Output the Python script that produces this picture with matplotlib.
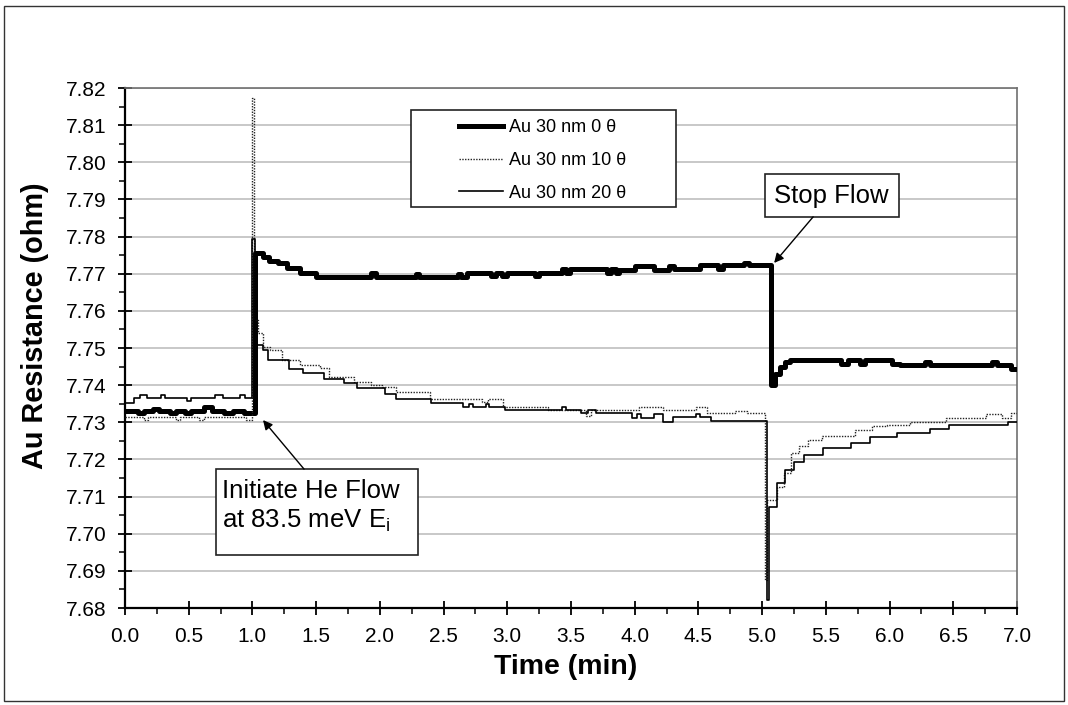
import matplotlib

matplotlib.use("Agg")
import matplotlib.pyplot as plt
from matplotlib.patches import Rectangle

plt.rcParams["font.family"] = ["Liberation Sans", "DejaVu Sans"]
plt.rcParams["mathtext.fontset"] = "custom"
plt.rcParams["mathtext.rm"] = "Liberation Sans"

W, H = 1068, 705

# Au 30 nm, 0 theta (thick line) - step breakpoints
time_0 = [0.00, 0.10, 0.15, 0.22, 0.27, 0.35, 0.40, 0.47, 0.52, 0.62, 0.68, 0.78,
          0.85, 0.93, 1.02, 1.08, 1.13, 1.20, 1.27, 1.37, 1.50, 1.93, 1.97, 2.28,
          2.31, 2.61, 2.64, 2.68, 2.87, 2.91, 2.96, 3.00, 3.22, 3.25, 3.43, 3.46,
          3.49, 3.78, 3.81, 3.85, 3.88, 4.00, 4.15, 4.27, 4.31, 4.51, 4.65, 4.69,
          4.86, 4.90, 5.07, 5.10, 5.14, 5.18, 5.22, 5.62, 5.67, 5.77, 5.81, 6.02,
          6.08, 6.28, 6.32, 6.80, 6.84, 6.95, 7.00]
res_0 = [7.7330, 7.7325, 7.7330, 7.7335, 7.7330, 7.7325, 7.7330, 7.7325, 7.7330,
         7.7340, 7.7330, 7.7325, 7.7330, 7.7325, 7.7755, 7.7745, 7.7735, 7.7728,
         7.7715, 7.7701, 7.7692, 7.7702, 7.7692, 7.7700, 7.7692, 7.7700, 7.7692,
         7.7703, 7.7693, 7.7703, 7.7693, 7.7701, 7.7693, 7.7701, 7.7713, 7.7703,
         7.7713, 7.7703, 7.7713, 7.7703, 7.7711, 7.7722, 7.7711, 7.7722, 7.7713,
         7.7723, 7.7713, 7.7723, 7.7730, 7.7723, 7.7400, 7.7430, 7.7450, 7.7462,
         7.7468, 7.7458, 7.7468, 7.7458, 7.7468, 7.7458, 7.7455, 7.7462, 7.7455,
         7.7462, 7.7455, 7.7443, 7.7443]

# Au 30 nm, 10 theta (dotted line)
time_10 = [0.00, 0.15, 0.18, 0.40, 0.43, 0.58, 0.62, 0.95, 1.00, 1.01, 1.04, 1.08,
           1.14, 1.23, 1.37, 1.53, 1.60, 1.80, 1.93, 2.02, 2.13, 2.39, 2.80, 2.85,
           2.97, 3.32, 3.62, 3.66, 4.03, 4.22, 4.48, 4.57, 4.79, 4.88, 5.02, 5.04,
           5.12, 5.17, 5.23, 5.29, 5.36, 5.47, 5.73, 5.86, 5.98, 6.16, 6.44, 6.76,
           6.88, 6.95, 7.00]
res_10 = [7.7315, 7.7307, 7.7315, 7.7307, 7.7315, 7.7307, 7.7315, 7.7307, 7.8172,
          7.7575, 7.7540, 7.7504, 7.7495, 7.7468, 7.7454, 7.7445, 7.7423, 7.7409,
          7.7400, 7.7394, 7.7382, 7.7363, 7.7355, 7.7363, 7.7342, 7.7333, 7.7318,
          7.7333, 7.7342, 7.7333, 7.7342, 7.7325, 7.7330, 7.7325, 7.6875, 7.7091,
          7.7127, 7.7163, 7.7217, 7.7235, 7.7253, 7.7263, 7.7279, 7.7290, 7.7293,
          7.7302, 7.7312, 7.7322, 7.7312, 7.7325, 7.7325]

# Au 30 nm, 20 theta (thin solid line)
time_20 = [0.00, 0.07, 0.12, 0.17, 0.28, 0.31, 0.49, 0.52, 0.71, 0.77, 0.90, 0.94,
           1.00, 1.02, 1.08, 1.12, 1.29, 1.40, 1.56, 1.72, 1.82, 2.04, 2.13, 2.40,
           2.65, 2.70, 2.73, 2.83, 2.86, 2.98, 3.43, 3.46, 3.58, 3.63, 3.70, 3.98,
           4.02, 4.05, 4.15, 4.22, 4.30, 4.48, 4.51, 4.60, 5.04, 5.05, 5.12, 5.18,
           5.25, 5.33, 5.48, 5.70, 5.85, 6.06, 6.32, 6.47, 6.93, 7.00]
res_20 = [7.7353, 7.7365, 7.7373, 7.7365, 7.7373, 7.7365, 7.7356, 7.7365, 7.7373,
          7.7365, 7.7373, 7.7365, 7.7793, 7.7508, 7.7495, 7.7468, 7.7443, 7.7433,
          7.7416, 7.7407, 7.7392, 7.7375, 7.7363, 7.7353, 7.7342, 7.7350, 7.7342,
          7.7350, 7.7342, 7.7333, 7.7340, 7.7333, 7.7325, 7.7333, 7.7325, 7.7311,
          7.7322, 7.7311, 7.7322, 7.7302, 7.7313, 7.7322, 7.7313, 7.7303, 7.6822,
          7.7073, 7.7136, 7.7171, 7.7194, 7.7212, 7.7232, 7.7243, 7.7261, 7.7272,
          7.7282, 7.7293, 7.7302, 7.7302]

labels = ["Au 30 nm 0 \u03b8", "Au 30 nm 10 \u03b8", "Au 30 nm 20 \u03b8"]
x_ticks = [0.0, 0.5, 1.0, 1.5, 2.0, 2.5, 3.0, 3.5, 4.0, 4.5, 5.0, 5.5, 6.0, 6.5, 7.0]
y_ticks = [7.68, 7.69, 7.70, 7.71, 7.72, 7.73, 7.74, 7.75, 7.76, 7.77, 7.78, 7.79,
           7.80, 7.81, 7.82]


def fig_xy(x, y):
    """Reference pixel position -> figure fraction."""
    return x / W, 1 - y / H


def box(ax, left, top, right, bottom):
    ax.add_patch(Rectangle(fig_xy(left, bottom), (right - left) / W, (bottom - top) / H,
                           transform=ax.figure.transFigure, clip_on=False,
                           facecolor="white", edgecolor="#222222", linewidth=1.2, zorder=6))


fig = plt.figure(figsize=(W / 100, H / 100), dpi=100)
fig.patches.append(Rectangle(fig_xy(4, 701), 1060 / W, 695 / H, transform=fig.transFigure,
                             fill=False, edgecolor="#333333", linewidth=1.0))

ax = fig.add_axes([125 / W, 1 - 608 / H, (1017 - 125) / W, (608 - 88) / H])
ax.plot(time_0, res_0, drawstyle="steps-post", color="black", linewidth=3.6,
        solid_joinstyle="round", label=labels[0], zorder=3)
ax.plot(time_10, res_10, drawstyle="steps-post", color="#222222", linewidth=1.0,
        linestyle=(0, (1, 1)), label=labels[1], zorder=4)
ax.plot(time_20, res_20, drawstyle="steps-post", color="black", linewidth=1.2,
        label=labels[2], zorder=5)

ax.set_xlim(0, 7)
ax.set_ylim(7.68, 7.82)
ax.set_xticks(x_ticks, [f"{v:.1f}" for v in x_ticks])
ax.set_yticks(y_ticks, [f"{v:.2f}" for v in y_ticks])
ax.set_xticks([v + 0.25 for v in x_ticks[:-1]], minor=True)
ax.set_yticks([round(v + 0.005, 3) for v in y_ticks[:-1]], minor=True)
ax.tick_params(which="major", direction="inout", length=10, width=1.3, labelsize=15,
               pad=8.5, colors="black")
ax.tick_params(which="minor", direction="out", length=4.5, width=1.1)
ax.grid(axis="y", which="major", color="#c8c8c8", linewidth=1.4, zorder=0)
ax.set_axisbelow(True)
for side in ("left", "bottom"):
    ax.spines[side].set_linewidth(1.6)
for side in ("top", "right"):
    ax.spines[side].set_linewidth(1.2)
    ax.spines[side].set_color("#707070")

fig.text(*fig_xy(35, 326), "Au Resistance (ohm)", rotation=90, ha="center", va="center",
         fontsize=20.8, fontweight="bold")
fig.text(*fig_xy(566, 667), "Time (min)", ha="center", va="center",
         fontsize=20.5, fontweight="bold")

# legend: framed box as in the original, entries from the plotted lines
box(ax, 411, 110, 676, 207)
leg = ax.legend(loc="upper left", bbox_to_anchor=fig_xy(459, 119),
                bbox_transform=fig.transFigure, frameon=False, fontsize=13,
                handlelength=2.45, handletextpad=0.3, labelspacing=0.88,
                borderpad=0, borderaxespad=0)
leg.set_zorder(7)

# annotations
box(ax, 216, 469, 418, 555)
ax.text(*fig_xy(222, 498), "Initiate He Flow", transform=fig.transFigure, fontsize=18.5,
        va="baseline", zorder=7)
ax.text(*fig_xy(222, 528), "at 83.5 meV E$_\\mathregular{i}$", transform=fig.transFigure,
        fontsize=18.5, va="baseline", zorder=7)
ax.annotate("", xy=(1.083, 7.7306), xytext=(1.405, 7.7174),
            arrowprops=dict(arrowstyle="-|>", color="black", lw=1.0, mutation_scale=14,
                            shrinkA=0, shrinkB=0), zorder=8)

box(ax, 765, 174, 899, 217)
ax.text(*fig_xy(831, 196), "Stop Flow", transform=fig.transFigure, fontsize=18.5,
        ha="center", va="center", zorder=7)
ax.annotate("", xy=(5.094, 7.7729), xytext=(5.40, 7.7853),
            arrowprops=dict(arrowstyle="-|>", color="black", lw=1.0, mutation_scale=14,
                            shrinkA=0, shrinkB=0), zorder=8)

fig.savefig("out.png", dpi=100, facecolor="white")
